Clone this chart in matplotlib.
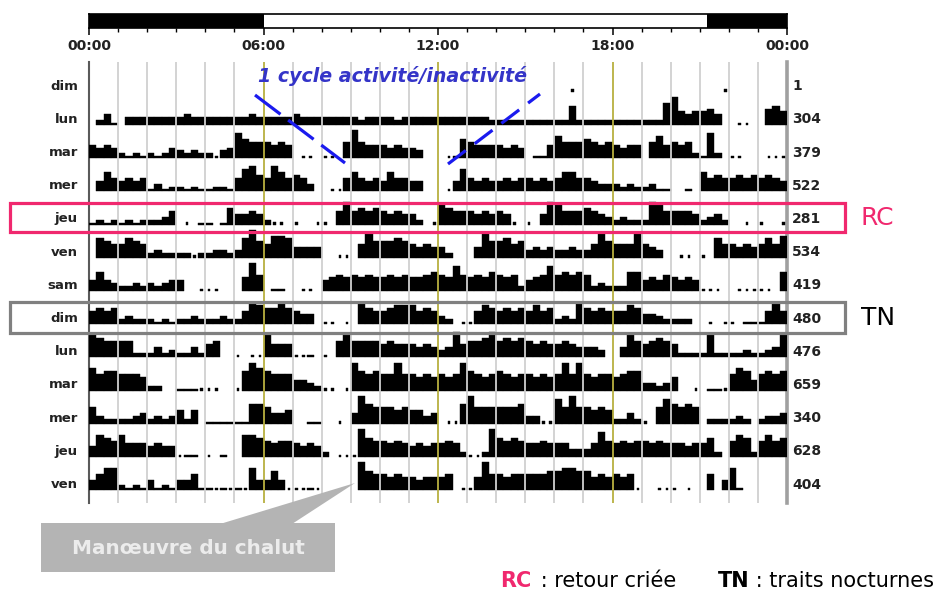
import matplotlib
matplotlib.use('Agg')
import matplotlib.pyplot as plt
from matplotlib.patches import Rectangle, Polygon
from matplotlib.lines import Line2D

plt.rcParams['font.family'] = ['DejaVu Sans']

# ---------------- data ----------------
days = ["dim", "lun", "mar", "mer", "jeu", "ven", "sam",
        "dim", "lun", "mar", "mer", "jeu", "ven"]
counts = [1, 304, 379, 522, 281, 534, 419, 480, 476, 659, 340, 628, 404]

# activity per 15-min bin, one group of 4 bins per hour
# '-' = no record, '.' = isolated point, '0'..'9' = activity level
act_dim1 = "----|----|----|----|----|----|----|----|----|----|----|----|----|----|----|----|--.-|----|----|----|----|---.|----|----"
act_lun1 = "-130|-222|2222|2322|2222|2232|2222|3222|2222|2122|2212|2222|2222|2221|1111|1111|1161|1111|1111|1117|9434|453-|-..-|-564"
act_mar1 = "4343|1010|1013|2121|1.23|8655|5454|-..-|..-5|9544|4343|32--|-.06|5444|4343|-004|7555|6545|4344|-574|5451|081-|..--|-..."
act_mer1 = "-364|3434|0201|1010|0110|4785|4864|542-|-..4|6434|3644|33--|-.37|4343|3434|4343|4664|4322|2121|1200|--0-|6454|4545|4543"
act_jeu1 = "0101|0101|1124|-.-0|0-05|3343|1..-|.--.|.-47|4545|4343|31-.|6544|4343|43.-|.-37|6444|5432|1211|1764|4443|1231|--.-|.--."
act_ven1 = "-654|4654|1211|11.1|1221|2695|4776|3333|--..|-485|5565|4343|31--|-385|5645|2323|2232|2485|4448|432-|-..-|.-64|4343|4647"
act_sam1 = "3632|1121|2123|3--.|..--|-495|-00-|-..-|3454|5454|4545|4456|5485|4546|5451|3458|5656|5121|1166|3435|4343|...-|-...|..-6"
act_dim2 = "4545|1211|1010|1121|1121|1476|5575|433-|..-.|-754|4566|6454|21-.|.465|4545|4645|1217|5454|4465|3321|111-|-.-.|.-00|0474"
act_lun2 = "7655|5511|1312|1131|45--|.-..|7444|..0-|.-57|5555|4544|4343|2384|5568|5656|5454|4543|332-|-375|4565|4111|1711|1121|1237"
act_mar2 = "7566|5554|11--|000.|..--|.697|6555|3321|..-.|9656|5595|5454|5459|6545|6545|5454|5959|5455|4566|2212|4--.|-00.|5763|5656"
act_mer2 = "5211|1123|1212|414-|0000|0066|5334|--00|--.-|3965|5545|4423|-..6|9555|5556|22..|8595|5454|1131|.-58|6565|-111|121-|1223"
act_jeu2 = "3765|7444|3433|.00-|.-0-|-776|5455|4343|1-..|.965|5454|3434|4541|..19|6565|4454|4422|2485|4545|5454|4434|461-|5761|5756"
act_ven2 = "3577|1010|3010|3350|0.0.|0.73|363.|..0.|----|-965|5454|4344|45-.|.495|5455|5556|6776|6454|545.|--..|.-.-|-5-3|70--|----"
activity = [act_dim1, act_lun1, act_mar1, act_mer1, act_jeu1, act_ven1, act_sam1,
            act_dim2, act_lun2, act_mar2, act_mer2, act_jeu2, act_ven2]

dark_periods = [(0.0, 6.0), (21.25, 24.0)]
major_hours = [0, 6, 12, 18, 24]
major_labels = ["00:00", "06:00", "12:00", "18:00", "00:00"]
highlight_hours = [6, 12, 18]
BIN_H = 0.25

# ---------------- layout ----------------
W, H = 938, 593
fig = plt.figure(figsize=(W / 100, H / 100), dpi=100)
fig.patch.set_facecolor('white')


def fx(x):
    return x / W


def fy(y):
    return 1 - y / H


L, R, T, B = 89, 787, 62, 503
ROW_PX = 33.2
BASE0 = 91.8

ax = fig.add_axes([fx(L), fy(B), (R - L) / W, (B - T) / H])
ax.set_xlim(0, 24)
ax.set_ylim((B - BASE0) / ROW_PX, (T - BASE0) / ROW_PX)
ax.set_xticks([])
ax.set_yticks([])
for s in ('top', 'bottom'):
    ax.spines[s].set_visible(False)
ax.spines['left'].set_color('#5a5a5a')
ax.spines['left'].set_linewidth(1.5)
ax.spines['right'].set_color('#a0a0a0')
ax.spines['right'].set_linewidth(2.6)

for h in range(1, 24):
    col = '#b8b040' if h in highlight_hours else '#d0d0d0'
    ax.axvline(h, color=col, lw=1.3, zorder=4)

for i, s in enumerate(activity):
    s = s.replace('|', '')
    xs, ws, hs = [], [], []
    for k, c in enumerate(s):
        x0 = k * BIN_H
        if c == '-':
            continue
        if c == '.':
            xs.append(x0 + BIN_H / 2 - 0.045)
            ws.append(0.09)
            hs.append(0.07)
        else:
            xs.append(x0)
            ws.append(BIN_H)
            hs.append(0.06 + 0.087 * int(c))
    if xs:
        ax.bar(xs, [-h for h in hs], width=ws, bottom=i, align='edge',
               color='black', edgecolor='black', linewidth=0.3, zorder=3)
    ax.text(-0.38, i - 0.17, days[i], ha='right', va='center',
            fontsize=9.5, fontweight='bold', color='#222222')
    ax.text(24.17, i - 0.17, str(counts[i]), ha='left', va='center',
            fontsize=10, fontweight='bold', color='#222222')

# ---------------- light/dark bar ----------------
tb = fig.add_axes([fx(L), fy(28), (R - L) / W, 14 / H])
tb.set_xlim(0, 24)
tb.set_ylim(0, 1)
for a, b in dark_periods:
    tb.axvspan(a, b, color='black', lw=0)
tb.set_yticks([])
tb.set_xticks(major_hours)
tb.set_xticklabels(major_labels, fontweight='bold', fontsize=10, color='#222222')
tb.set_xticks(range(25), minor=True)
tb.tick_params(axis='x', which='major', length=5, width=1.1, pad=3)
tb.tick_params(axis='x', which='minor', length=3, width=1.0)
for sp in tb.spines.values():
    sp.set_linewidth(1.2)

# ---------------- annotations ----------------
ov = fig.add_axes([0, 0, 1, 1], zorder=10)
ov.set_xlim(0, W)
ov.set_ylim(H, 0)
ov.set_axis_off()

ov.add_patch(Rectangle((10, 203), 835, 29, fill=False, edgecolor='#f0286e', lw=2.3))
ov.add_patch(Rectangle((10, 302), 835, 31, fill=False, edgecolor='#808080', lw=2.3))
ov.text(877, 218, "RC", color='#f0286e', fontsize=18, ha='center', va='center')
ov.text(878, 318, "TN", color='black', fontsize=18, ha='center', va='center')

ov.text(258, 76, "1 cycle activité/inactivité", color='#3434c8', fontsize=13.7,
        fontweight='bold', fontstyle='italic', ha='left', va='center')
ov.add_line(Line2D([255, 345], [95, 163], color='#1a1aee', lw=2.3, dashes=(10, 3)))
ov.add_line(Line2D([448, 540], [164, 94], color='#1a1aee', lw=2.3, dashes=(7, 3.5)))

ov.add_patch(Polygon([(220, 524), (292, 524), (355, 483)], closed=True,
                     facecolor='#b4b4b4', edgecolor='none'))
ov.add_patch(Rectangle((41, 523), 294, 49, facecolor='#b4b4b4', edgecolor='none'))
ov.text(188, 548, "Manœuvre du chalut", color='#ececec', fontsize=14.4,
        fontweight='bold', ha='center', va='center')

ov.text(500, 581, "RC", color='#f0286e', fontsize=15, fontweight='bold', ha='left', va='center')
ov.text(534, 581, " : retour criée", color='black', fontsize=15, ha='left', va='center')
ov.text(718, 581, "TN", color='black', fontsize=15, fontweight='bold', ha='left', va='center')
ov.text(749, 581, " : traits nocturnes", color='black', fontsize=15, ha='left', va='center')

fig.savefig('out.png', dpi=100)
